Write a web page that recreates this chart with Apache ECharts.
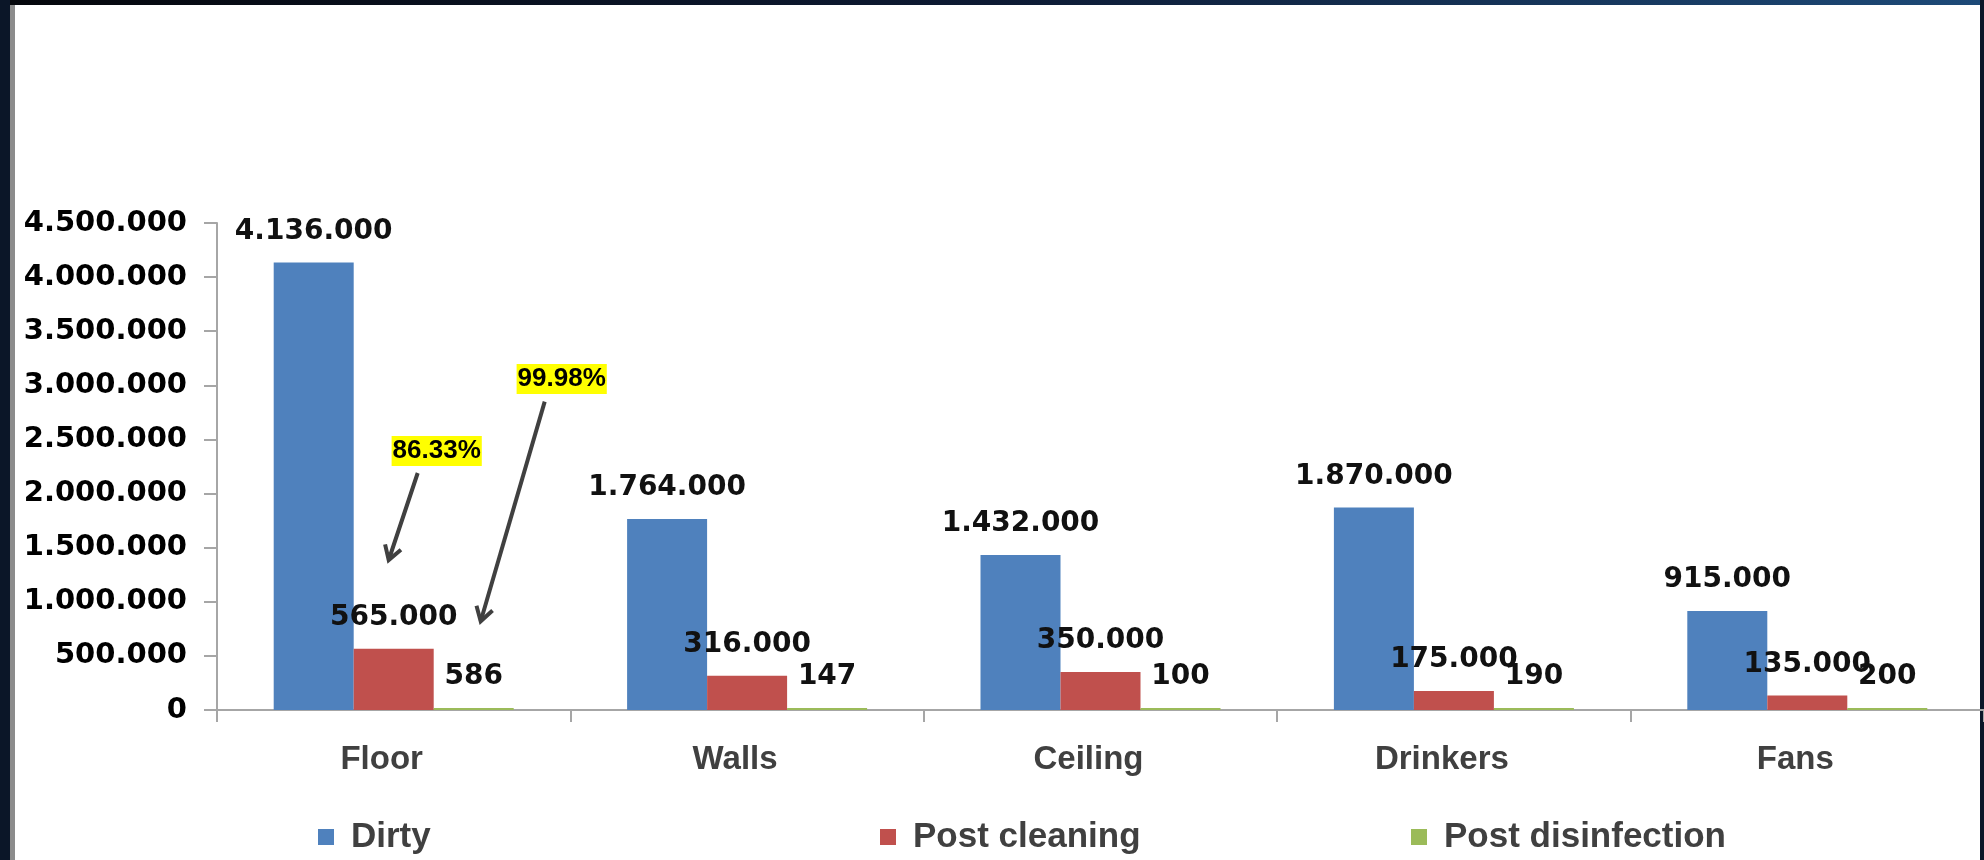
<!DOCTYPE html>
<html>
<head>
<meta charset="utf-8">
<script src="https://cdn.jsdelivr.net/npm/echarts@6/dist/echarts.min.js"></script>
<style>
  html, body { margin: 0; padding: 0; background: #ffffff; }
  #chart { width: 1984px; height: 860px; }
</style>
</head>
<body>
<div id="chart"></div>
<script>
// data
const categories = ['Floor', 'Walls', 'Ceiling', 'Drinkers', 'Fans'];
const dirty = [4136000, 1764000, 1432000, 1870000, 915000];
const postCleaning = [565000, 316000, 350000, 175000, 135000];
const postDisinfection = [586, 147, 100, 190, 200];
const seriesNames = ['Dirty', 'Post cleaning', 'Post disinfection'];
const yMin = 0;
const yMax = 4500000;
const yStep = 500000;
// reduction notes pointing at the Floor bars
const reductionNotes = ['86.33%', '99.98%'];

const colors = ['#4F81BD', '#C0504D', '#9BBB59'];

// 4136000 -> 4.136.000
const fmt = (v) => String(v).replace(/\B(?=(\d{3})+(?!\d))/g, '.');

const chart = echarts.init(document.getElementById('chart'));

const valueLabel = {
  show: true,
  position: 'top',
  distance: 17,
  color: '#111',
  fontFamily: 'DejaVu Sans',
  fontWeight: 'bold',
  fontSize: 28,
  formatter: (p) => fmt(p.value)
};

const legendText = {
  color: '#404040',
  fontFamily: 'Liberation Sans',
  fontWeight: 'bold',
  fontSize: 35,
  lineHeight: 40,
  padding: [0, 0, 0, 12]
};

const makeLegend = (name, left) => ({
  data: [name],
  left: left,
  top: 812,
  itemWidth: 16,
  itemHeight: 16,
  icon: 'rect',
  selectedMode: false,
  textStyle: legendText
});

const option = {
  animation: false,
  backgroundColor: '#ffffff',
  grid: {
    left: 217,
    top: 223,
    width: 1790,
    height: 487
  },
  legend: [
    makeLegend(seriesNames[0], 313),
    makeLegend(seriesNames[1], 875),
    makeLegend(seriesNames[2], 1406)
  ],
  xAxis: {
    type: 'category',
    data: categories,
    axisLine: { lineStyle: { color: '#A6A6A6', width: 2 } },
    axisTick: { show: true, length: 12, lineStyle: { color: '#A6A6A6', width: 2 } },
    axisLabel: {
      margin: 33,
      color: '#404040',
      fontFamily: 'Liberation Sans',
      fontWeight: 'bold',
      fontSize: 33,
      padding: [0, 24, 0, 0]
    }
  },
  yAxis: {
    type: 'value',
    min: yMin,
    max: yMax,
    interval: yStep,
    splitLine: { show: false },
    axisLine: { show: true, lineStyle: { color: '#A6A6A6', width: 2 } },
    axisTick: { show: true, length: 13, lineStyle: { color: '#A6A6A6', width: 2 } },
    axisLabel: {
      margin: 30,
      color: '#000',
      fontFamily: 'DejaVu Sans',
      fontWeight: 'bold',
      fontSize: 29,
      formatter: (v) => fmt(v)
    }
  },
  series: [
    { name: seriesNames[0], type: 'bar', data: dirty },
    { name: seriesNames[1], type: 'bar', data: postCleaning },
    { name: seriesNames[2], type: 'bar', data: postDisinfection }
  ].map((s, i) => ({
    ...s,
    barWidth: 80,
    barGap: '0%',
    barMinHeight: 2,
    itemStyle: { color: colors[i] },
    label: valueLabel
  }))
};

chart.setOption(option);

// annotations: placed relative to the Floor category through the axes
const toPx = (cat, v) => chart.convertToPixel({ gridIndex: 0 }, [cat, v]);

const arrow = (from, to) => {
  const ang = Math.atan2(to[1] - from[1], to[0] - from[0]);
  const len = 16;
  const spread = 0.55;
  const a = [to[0] - len * Math.cos(ang - spread), to[1] - len * Math.sin(ang - spread)];
  const b = [to[0] - len * Math.cos(ang + spread), to[1] - len * Math.sin(ang + spread)];
  const stroke = { stroke: '#404040', lineWidth: 4, fill: null };
  return [
    { type: 'line', shape: { x1: from[0], y1: from[1], x2: to[0], y2: to[1] }, style: stroke, z: 10 },
    { type: 'polyline', shape: { points: [a, to, b] }, style: stroke, z: 10 }
  ];
};

const note = (text, pos) => ({
  type: 'text',
  x: pos[0],
  y: pos[1],
  z: 10,
  style: {
    text: text,
    fill: '#000',
    font: 'bold 26px "Liberation Sans"',
    backgroundColor: '#FFFF00',
    padding: [2, 1, 2, 1],
    align: 'center',
    verticalAlign: 'middle'
  }
});

const floor = categories[0];
const cx = toPx(floor, 0)[0];
const yAt = (v) => toPx(floor, v)[1];

const frame = [
  { type: 'rect', shape: { x: 0, y: 0, width: 1984, height: 5 }, z: -1,
    style: { fill: new echarts.graphic.LinearGradient(0, 0, 1, 0, [
      { offset: 0, color: '#05070c' }, { offset: 0.5, color: '#0d1a33' }, { offset: 1, color: '#1d4a78' }
    ]) } },
  { type: 'rect', shape: { x: 0, y: 0, width: 10, height: 860 }, z: -1, style: { fill: '#0b1628' } },
  { type: 'rect', shape: { x: 10, y: 5, width: 5, height: 855 }, z: -1, style: { fill: '#8c8c8c' } },
  { type: 'rect', shape: { x: 1980, y: 0, width: 4, height: 860 }, z: -1, style: { fill: '#0b1628' } }
];

chart.setOption({
  graphic: [
    ...frame,
    note(reductionNotes[0], [cx + 43, yAt(2393000)]),
    note(reductionNotes[1], [cx + 168, yAt(3058000)]),
    ...arrow([cx + 24, yAt(2190000)], [cx - 5, yAt(1386000)]),
    ...arrow([cx + 151, yAt(2850000)], [cx + 87, yAt(820000)])
  ]
});

window.addEventListener('resize', () => chart.resize());
</script>
</body>
</html>
